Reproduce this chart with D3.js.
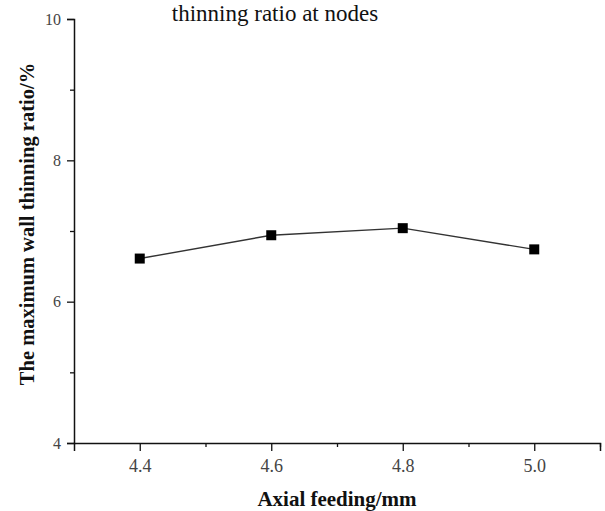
<!DOCTYPE html>
<html>
<head>
<meta charset="utf-8">
<script src="https://cdn.jsdelivr.net/npm/d3@7"></script>
<style>
  body { margin: 0; background: #fff; }
  svg { display: block; }
</style>
</head>
<body>
<svg id="chart" width="605" height="511"></svg>
<script>
// Axial feeding (mm) and the corresponding maximum wall thinning ratio (%)
const feeding = [4.4, 4.6, 4.8, 5.0];
const thinning = [6.61, 6.94, 7.04, 6.74];
const xTicks = [4.4, 4.6, 4.8, 5.0];
const xMinorTicks = [4.5, 4.7, 4.9, 5.1];
const yTicks = [4, 6, 8, 10];
const yMinorTicks = [5, 7, 9];

const svg = d3.select("#chart");
const serif = "Liberation Serif, Times New Roman, serif";

const x = d3.scaleLinear().domain([4.3, 5.1]).range([74, 600]);
const y = d3.scaleLinear().domain([4, 10]).range([443, 19]);

// Title line
svg.append("text")
  .attr("x", 275).attr("y", 21)
  .attr("text-anchor", "middle")
  .attr("font-family", serif).attr("font-size", 23)
  .attr("fill", "#111")
  .text("thinning ratio at nodes");

// X axis
const xAxis = svg.append("g").attr("transform", `translate(0,${y(4)})`)
  .call(d3.axisBottom(x).tickValues(xTicks).tickFormat(d3.format(".1f")).tickSizeOuter(0).tickSize(8).tickPadding(8));
svg.append("g").attr("transform", `translate(0,${y(4)})`)
  .call(d3.axisBottom(x).tickValues(xMinorTicks).tickFormat("").tickSizeOuter(0).tickSize(4))
  .call(g => g.select(".domain").remove());

// Y axis
const yAxis = svg.append("g").attr("transform", `translate(${x(4.3)},0)`)
  .call(d3.axisLeft(y).tickValues(yTicks).tickFormat(d3.format("d")).tickSizeOuter(0).tickSize(7).tickPadding(6));
svg.append("g").attr("transform", `translate(${x(4.3)},0)`)
  .call(d3.axisLeft(y).tickValues(yMinorTicks).tickFormat("").tickSizeOuter(0).tickSize(4))
  .call(g => g.select(".domain").remove());

svg.selectAll(".domain").attr("stroke", "#111").attr("stroke-width", 1.5);
svg.selectAll(".tick line").attr("stroke", "#111").attr("stroke-width", 1.3);
xAxis.selectAll(".tick text").attr("font-family", serif).attr("font-size", 18).attr("fill", "#444");
yAxis.selectAll(".tick text").attr("font-family", serif).attr("font-size", 16).attr("fill", "#444");

// Axis titles
svg.append("text")
  .attr("x", 337).attr("y", 506)
  .attr("text-anchor", "middle")
  .attr("font-family", serif).attr("font-size", 21).attr("font-weight", "bold")
  .attr("fill", "#111")
  .text("Axial feeding/mm");

svg.append("text")
  .attr("transform", "translate(34,224) rotate(-90)")
  .attr("text-anchor", "middle")
  .attr("font-family", serif).attr("font-size", 20.5).attr("font-weight", "bold")
  .attr("fill", "#111")
  .text("The maximum wall thinning ratio/%");

// Data line and square markers
const pts = feeding.map((f, i) => [f, thinning[i]]);
svg.append("path")
  .datum(pts)
  .attr("fill", "none").attr("stroke", "#333").attr("stroke-width", 1.4)
  .attr("d", d3.line().x(d => x(d[0])).y(d => y(d[1])));

svg.selectAll("rect.pt").data(pts).enter().append("rect")
  .attr("class", "pt")
  .attr("x", d => x(d[0]) - 5).attr("y", d => y(d[1]) - 5)
  .attr("width", 10).attr("height", 10)
  .attr("fill", "#000");
</script>
</body>
</html>
